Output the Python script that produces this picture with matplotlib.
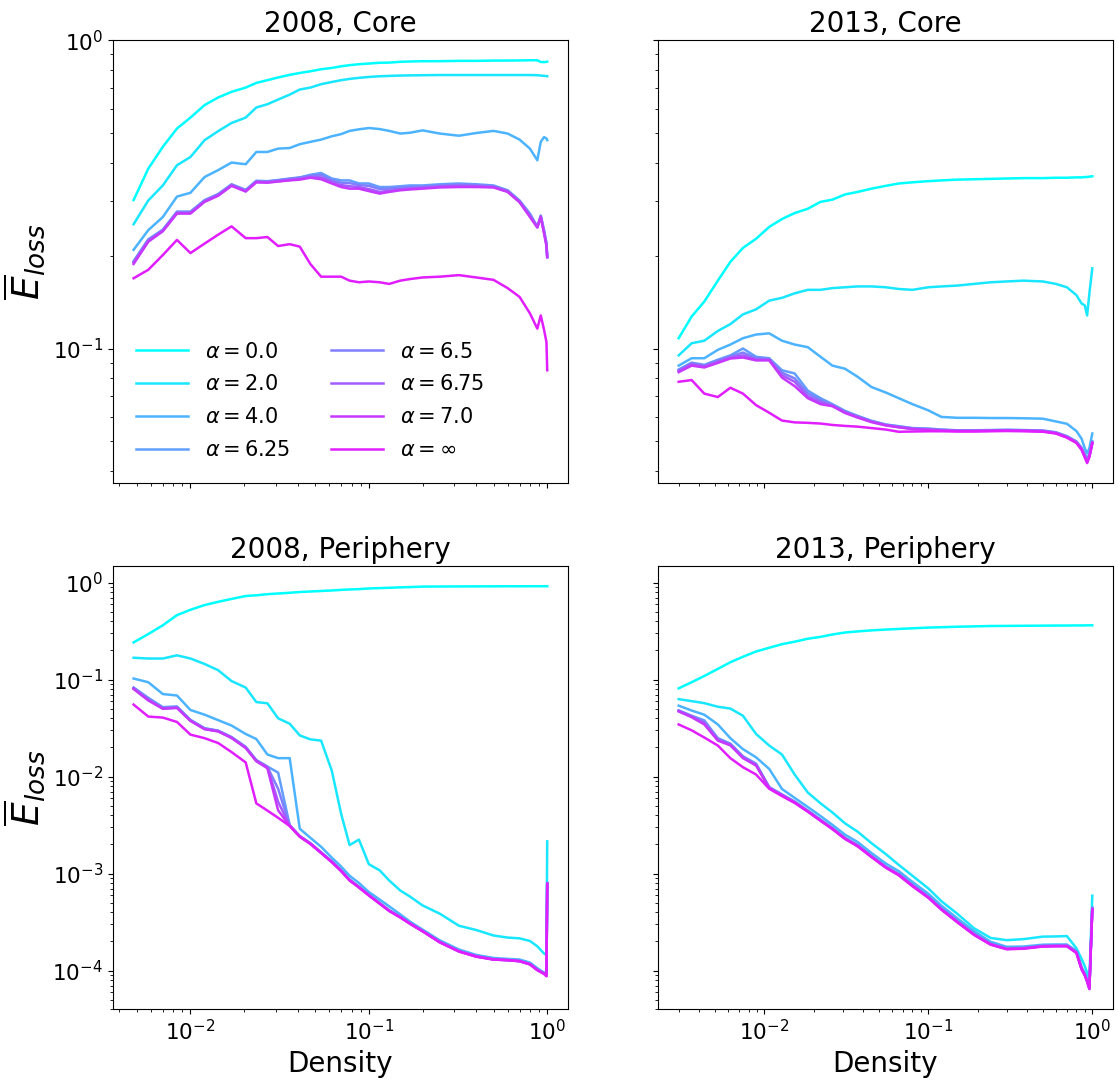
import matplotlib
matplotlib.use('Agg')
import matplotlib.pyplot as plt

# Legend labels and colours (cool colormap positions)
labels = [r'$\alpha = 0.0$', r'$\alpha = 2.0$', r'$\alpha = 4.0$', r'$\alpha = 6.25$',
          r'$\alpha = 6.5$', r'$\alpha = 6.75$', r'$\alpha = 7.0$', r'$\alpha = \infty$']
cmapPos = [0.0, 0.1, 0.3, 0.38, 0.5, 0.64, 0.78, 0.88]

# Density grids
x2008 = [0.0048, 0.0058, 0.007, 0.0084, 0.01, 0.012, 0.0143, 0.017, 0.0204, 0.0234,
         0.027, 0.031, 0.036, 0.041, 0.047, 0.054, 0.062, 0.07, 0.078, 0.088,
         0.1, 0.115, 0.13, 0.15, 0.17, 0.2, 0.25, 0.32, 0.4, 0.5,
         0.6, 0.7, 0.8, 0.88, 0.92, 0.96, 0.99, 1.0]
x2013 = [0.003, 0.0036, 0.0043, 0.0052, 0.0062, 0.0074, 0.0089, 0.0107, 0.0128, 0.0153,
         0.0184, 0.022, 0.026, 0.031, 0.037, 0.045, 0.055, 0.066, 0.08, 0.1,
         0.12, 0.15, 0.19, 0.24, 0.3, 0.38, 0.5, 0.6, 0.7, 0.8,
         0.86, 0.9, 0.93, 0.96, 1.0]

# 2008, Core
core08_a0 = [0.303, 0.383, 0.451, 0.517, 0.561, 0.616, 0.652, 0.680, 0.702, 0.727,
             0.742, 0.757, 0.772, 0.783, 0.793, 0.805, 0.813, 0.823, 0.830, 0.836,
             0.840, 0.845, 0.846, 0.851, 0.853, 0.855, 0.855, 0.857, 0.857, 0.859,
             0.859, 0.860, 0.861, 0.861, 0.850, 0.849, 0.851, 0.852]
core08_a2 = [0.253, 0.302, 0.338, 0.393, 0.418, 0.474, 0.507, 0.539, 0.561, 0.605,
             0.620, 0.642, 0.666, 0.692, 0.702, 0.720, 0.732, 0.742, 0.749, 0.755,
             0.760, 0.764, 0.766, 0.768, 0.769, 0.770, 0.771, 0.771, 0.771, 0.771,
             0.771, 0.771, 0.771, 0.770, 0.768, 0.766, 0.765, 0.764]
core08_a4 = [0.209, 0.242, 0.267, 0.311, 0.320, 0.360, 0.379, 0.401, 0.396, 0.434,
             0.434, 0.445, 0.447, 0.460, 0.468, 0.476, 0.488, 0.496, 0.508, 0.514,
             0.519, 0.515, 0.508, 0.498, 0.501, 0.510, 0.498, 0.490, 0.500, 0.508,
             0.498, 0.476, 0.445, 0.408, 0.468, 0.485, 0.480, 0.474]
core08_a625 = [0.192, 0.226, 0.243, 0.278, 0.278, 0.303, 0.317, 0.341, 0.327, 0.350,
               0.349, 0.352, 0.356, 0.359, 0.366, 0.371, 0.356, 0.351, 0.351, 0.343,
               0.343, 0.334, 0.334, 0.336, 0.338, 0.338, 0.341, 0.343, 0.341, 0.338,
               0.326, 0.302, 0.274, 0.248, 0.270, 0.242, 0.220, 0.198]
core08_a65 = [0.191, 0.225, 0.242, 0.277, 0.277, 0.302, 0.316, 0.340, 0.326, 0.349,
              0.348, 0.351, 0.355, 0.358, 0.363, 0.366, 0.351, 0.345, 0.344, 0.339,
              0.337, 0.329, 0.330, 0.332, 0.334, 0.335, 0.338, 0.340, 0.339, 0.336,
              0.325, 0.301, 0.272, 0.248, 0.269, 0.240, 0.219, 0.198]
core08_a675 = [0.190, 0.223, 0.241, 0.275, 0.275, 0.300, 0.314, 0.338, 0.324, 0.347,
               0.346, 0.349, 0.352, 0.355, 0.360, 0.359, 0.347, 0.339, 0.336, 0.334,
               0.329, 0.322, 0.325, 0.328, 0.330, 0.332, 0.335, 0.337, 0.336, 0.334,
               0.323, 0.299, 0.269, 0.247, 0.268, 0.238, 0.217, 0.198]
core08_a7 = [0.188, 0.222, 0.240, 0.274, 0.274, 0.299, 0.313, 0.337, 0.323, 0.346,
             0.345, 0.348, 0.351, 0.353, 0.358, 0.354, 0.343, 0.334, 0.330, 0.330,
             0.324, 0.318, 0.322, 0.326, 0.328, 0.330, 0.333, 0.334, 0.334, 0.333,
             0.322, 0.298, 0.267, 0.247, 0.267, 0.236, 0.215, 0.198]
core08_ainf = [0.169, 0.180, 0.201, 0.225, 0.204, 0.219, 0.234, 0.249, 0.228, 0.228,
               0.230, 0.215, 0.218, 0.214, 0.188, 0.171, 0.171, 0.171, 0.166, 0.164,
               0.165, 0.164, 0.162, 0.166, 0.168, 0.170, 0.171, 0.173, 0.170, 0.167,
               0.157, 0.147, 0.130, 0.116, 0.128, 0.115, 0.105, 0.085]

# 2013, Core
core13_a0 = [0.108, 0.127, 0.142, 0.166, 0.191, 0.212, 0.227, 0.248, 0.263, 0.275,
             0.284, 0.299, 0.304, 0.316, 0.322, 0.330, 0.337, 0.343, 0.346, 0.349,
             0.351, 0.353, 0.354, 0.355, 0.356, 0.357, 0.357, 0.358, 0.358, 0.359,
             0.359, 0.360, 0.360, 0.361, 0.362]
core13_a2 = [0.095, 0.104, 0.106, 0.114, 0.120, 0.129, 0.134, 0.143, 0.146, 0.151,
             0.155, 0.155, 0.157, 0.158, 0.159, 0.159, 0.158, 0.156, 0.155, 0.158,
             0.159, 0.160, 0.162, 0.164, 0.165, 0.166, 0.165, 0.162, 0.158, 0.149,
             0.140, 0.138, 0.128, 0.151, 0.182]
core13_a4 = [0.088, 0.093, 0.093, 0.099, 0.103, 0.108, 0.111, 0.112, 0.106, 0.103,
             0.101, 0.094, 0.088, 0.086, 0.081, 0.075, 0.072, 0.069, 0.066, 0.063,
             0.060, 0.0596, 0.0596, 0.0595, 0.0595, 0.0594, 0.0592, 0.058, 0.057, 0.054,
             0.051, 0.0475, 0.0457, 0.0475, 0.053]
core13_a625 = [0.0855, 0.090, 0.0885, 0.092, 0.095, 0.100, 0.094, 0.093, 0.085, 0.083,
               0.073, 0.069, 0.066, 0.0628, 0.0605, 0.0583, 0.0567, 0.056, 0.0552, 0.055,
               0.0546, 0.0543, 0.0543, 0.0544, 0.0545, 0.0544, 0.0542, 0.0535, 0.052, 0.050,
               0.0477, 0.0455, 0.0438, 0.0455, 0.050]
core13_a65 = [0.085, 0.0895, 0.088, 0.0912, 0.0942, 0.097, 0.093, 0.0925, 0.0835, 0.080,
              0.0715, 0.068, 0.0655, 0.0624, 0.0602, 0.0581, 0.0566, 0.0558, 0.0551, 0.0548,
              0.0545, 0.0542, 0.0542, 0.0543, 0.0544, 0.0543, 0.0541, 0.0534, 0.0518, 0.0498,
              0.0475, 0.0452, 0.0435, 0.0452, 0.0497]
core13_a675 = [0.0845, 0.089, 0.0875, 0.0905, 0.0935, 0.095, 0.092, 0.092, 0.082, 0.078,
               0.070, 0.067, 0.0652, 0.0621, 0.06, 0.0579, 0.0564, 0.0556, 0.0549, 0.0546,
               0.0543, 0.0541, 0.0541, 0.0542, 0.0543, 0.0542, 0.054, 0.0532, 0.0516, 0.0496,
               0.0472, 0.0448, 0.0431, 0.0448, 0.0494]
core13_a7 = [0.0838, 0.088, 0.0868, 0.0898, 0.0928, 0.0935, 0.0915, 0.0915, 0.0805, 0.0755,
             0.069, 0.066, 0.065, 0.0618, 0.0597, 0.0577, 0.0563, 0.0555, 0.0548, 0.0545,
             0.0542, 0.054, 0.054, 0.0541, 0.0542, 0.0541, 0.0539, 0.0531, 0.0515, 0.0495,
             0.047, 0.0445, 0.0428, 0.0445, 0.049]
core13_ainf = [0.078, 0.079, 0.0714, 0.0696, 0.0746, 0.0714, 0.0655, 0.0619, 0.0584, 0.0576,
               0.0574, 0.0571, 0.0565, 0.0561, 0.0558, 0.0552, 0.0546, 0.0537, 0.0538, 0.0539,
               0.0539, 0.0538, 0.0538, 0.0539, 0.054, 0.0539, 0.0537, 0.053, 0.0514, 0.0494,
               0.047, 0.0443, 0.0425, 0.0445, 0.0495]

# 2008, Periphery
peri08_a0 = [0.242, 0.295, 0.363, 0.462, 0.525, 0.587, 0.634, 0.679, 0.728, 0.740,
             0.760, 0.773, 0.786, 0.800, 0.810, 0.820, 0.830, 0.842, 0.850, 0.857,
             0.871, 0.878, 0.885, 0.894, 0.900, 0.910, 0.912, 0.914, 0.915, 0.916,
             0.917, 0.917, 0.918, 0.918, 0.918, 0.918, 0.918, 0.918]
peri08_a2 = [0.168, 0.165, 0.165, 0.178, 0.165, 0.145, 0.125, 0.0966, 0.0828, 0.0587,
             0.057, 0.0399, 0.0351, 0.0266, 0.0242, 0.0235, 0.0115, 0.0041, 0.00197, 0.00224,
             0.00125, 0.00108, 0.00085, 0.00067, 0.00058, 0.00047, 0.000386, 0.00029, 0.000262, 0.00023,
             0.000219, 0.000215, 0.000202, 0.000178, 0.000163, 0.00015, 0.000145, 0.00215]
peri08_a4 = [0.1026, 0.094, 0.071, 0.0686, 0.0486, 0.0435, 0.0382, 0.0336, 0.0275, 0.0244,
             0.0169, 0.0155, 0.0155, 0.0029, 0.00234, 0.00189, 0.00146, 0.00118, 0.00095, 0.0008,
             0.000646, 0.00054, 0.00046, 0.00038, 0.00032, 0.000265, 0.000205, 0.000165, 0.000145, 0.000135,
             0.000132, 0.00013, 0.000121, 0.000106, 0.0001, 0.0000957, 0.0000918, 0.0008]
peri08_a625 = [0.083, 0.065, 0.052, 0.053, 0.0385, 0.0316, 0.0298, 0.0256, 0.0203, 0.0148,
               0.0127, 0.011, 0.00316, 0.00244, 0.00206, 0.00166, 0.00134, 0.00108, 0.00087, 0.000734,
               0.000608, 0.000499, 0.00042, 0.00036, 0.00031, 0.000259, 0.000199, 0.00016, 0.000142, 0.000132,
               0.00013, 0.000127, 0.000118, 0.000103, 0.0000985, 0.0000945, 0.0000894, 0.0008]
peri08_a65 = [0.082, 0.063, 0.051, 0.052, 0.038, 0.0313, 0.0296, 0.0254, 0.020, 0.0147,
              0.0126, 0.0075, 0.00314, 0.00243, 0.00205, 0.00165, 0.00133, 0.00107, 0.00086, 0.000728,
              0.000603, 0.000495, 0.000417, 0.000357, 0.000308, 0.000257, 0.000198, 0.000159, 0.000141, 0.000131,
              0.000129, 0.000126, 0.000117, 0.000102, 0.0000978, 0.0000938, 0.0000888, 0.00079]
peri08_a675 = [0.081, 0.062, 0.0505, 0.0515, 0.0378, 0.031, 0.0294, 0.0252, 0.0199, 0.0146,
               0.0125, 0.0055, 0.00312, 0.00242, 0.00204, 0.00164, 0.00132, 0.00107, 0.00086, 0.000724,
               0.0006, 0.000492, 0.000415, 0.000355, 0.000306, 0.000256, 0.000197, 0.000158, 0.00014, 0.00013,
               0.000128, 0.000125, 0.000116, 0.000102, 0.0000972, 0.0000932, 0.0000882, 0.00079]
peri08_a7 = [0.080, 0.061, 0.050, 0.051, 0.0375, 0.0308, 0.0292, 0.025, 0.0197, 0.0144,
             0.0122, 0.0045, 0.0031, 0.00241, 0.00203, 0.00164, 0.00132, 0.00106, 0.00085, 0.00072,
             0.000597, 0.00049, 0.000413, 0.000354, 0.000305, 0.000255, 0.000196, 0.000158, 0.00014, 0.00013,
             0.000128, 0.000125, 0.000116, 0.000101, 0.0000968, 0.0000928, 0.0000878, 0.00078]
peri08_ainf = [0.0553, 0.0416, 0.0406, 0.0366, 0.0271, 0.0249, 0.0222, 0.0179, 0.014, 0.0053,
               0.00446, 0.00376, 0.0031, 0.0024, 0.00202, 0.00163, 0.00131, 0.00106, 0.00085, 0.00072,
               0.000595, 0.00049, 0.000412, 0.000353, 0.000304, 0.000254, 0.000195, 0.000157, 0.000139, 0.00013,
               0.000128, 0.000125, 0.000116, 0.000101, 0.0000965, 0.0000925, 0.0000875, 0.00078]

# 2013, Periphery
peri13_a0 = [0.0813, 0.094, 0.109, 0.129, 0.151, 0.172, 0.195, 0.213, 0.232, 0.246,
             0.264, 0.276, 0.292, 0.306, 0.314, 0.322, 0.328, 0.333, 0.338, 0.344,
             0.347, 0.351, 0.354, 0.357, 0.358, 0.359, 0.360, 0.361, 0.361, 0.362,
             0.362, 0.362, 0.363, 0.363, 0.363]
peri13_a2 = [0.0629, 0.060, 0.0572, 0.0525, 0.0503, 0.0424, 0.0275, 0.0209, 0.0169, 0.0105,
             0.00685, 0.0053, 0.00427, 0.0033, 0.00271, 0.00206, 0.00159, 0.00123, 0.00095, 0.000703,
             0.00052, 0.000386, 0.000273, 0.000217, 0.000206, 0.000211, 0.000224, 0.000225, 0.000227, 0.00017,
             0.000132, 0.000111, 0.000095, 0.000082, 0.000592]
peri13_a4 = [0.0539, 0.048, 0.0435, 0.0345, 0.0249, 0.0192, 0.0158, 0.012, 0.00746, 0.00603,
             0.00486, 0.00392, 0.00318, 0.00252, 0.00212, 0.00163, 0.00127, 0.00106, 0.00082, 0.00062,
             0.000468, 0.000346, 0.000255, 0.000198, 0.000176, 0.000177, 0.000185, 0.000186, 0.000186, 0.00016,
             0.000109, 0.000094, 0.000081, 0.000068, 0.00045]
peri13_a625 = [0.0482, 0.0424, 0.038, 0.0249, 0.0219, 0.0162, 0.0136, 0.0078, 0.00656, 0.00553,
               0.00446, 0.0036, 0.00295, 0.00234, 0.00197, 0.00152, 0.00118, 0.00099, 0.000766, 0.00058,
               0.000438, 0.000324, 0.00024, 0.00019, 0.00017, 0.000172, 0.000181, 0.000182, 0.000182, 0.000156,
               0.000106, 0.0000918, 0.0000787, 0.0000662, 0.000438]
peri13_a65 = [0.0478, 0.0420, 0.0368, 0.0245, 0.0216, 0.016, 0.0134, 0.0077, 0.0065, 0.00548,
              0.00443, 0.00357, 0.00293, 0.00232, 0.00196, 0.00151, 0.00117, 0.00098, 0.00076, 0.000576,
              0.000435, 0.000322, 0.000238, 0.000188, 0.000169, 0.000171, 0.00018, 0.000181, 0.000181, 0.000155,
              0.000105, 0.0000912, 0.0000782, 0.0000658, 0.000436]
peri13_a675 = [0.0474, 0.0415, 0.0356, 0.024, 0.0213, 0.0158, 0.0132, 0.0077, 0.0064, 0.00544,
               0.0044, 0.00355, 0.00291, 0.0023, 0.00194, 0.0015, 0.00117, 0.00098, 0.000755, 0.000572,
               0.000432, 0.00032, 0.000236, 0.000187, 0.000168, 0.00017, 0.000179, 0.00018, 0.00018, 0.000154,
               0.000105, 0.0000906, 0.0000777, 0.0000654, 0.000433]
peri13_a7 = [0.047, 0.041, 0.0345, 0.0235, 0.021, 0.0155, 0.013, 0.0076, 0.0064, 0.0054,
             0.00437, 0.00353, 0.00289, 0.00229, 0.00193, 0.00149, 0.00116, 0.00097, 0.00075, 0.000568,
             0.000429, 0.000318, 0.000235, 0.000186, 0.000167, 0.000169, 0.000178, 0.000179, 0.000179, 0.000153,
             0.000104, 0.00009, 0.0000772, 0.000065, 0.00043]
peri13_ainf = [0.0345, 0.030, 0.0253, 0.0209, 0.0155, 0.0125, 0.0105, 0.0075, 0.0063, 0.00535,
               0.00435, 0.0035, 0.00287, 0.00228, 0.00191, 0.00148, 0.00115, 0.00096, 0.00074, 0.000563,
               0.000425, 0.000315, 0.000233, 0.000185, 0.000166, 0.000168, 0.000177, 0.000178, 0.000178, 0.000152,
               0.000103, 0.0000892, 0.0000766, 0.0000645, 0.000425]

core08 = [core08_a0, core08_a2, core08_a4, core08_a625, core08_a65, core08_a675, core08_a7, core08_ainf]
core13 = [core13_a0, core13_a2, core13_a4, core13_a625, core13_a65, core13_a675, core13_a7, core13_ainf]
peri08 = [peri08_a0, peri08_a2, peri08_a4, peri08_a625, peri08_a65, peri08_a675, peri08_a7, peri08_ainf]
peri13 = [peri13_a0, peri13_a2, peri13_a4, peri13_a625, peri13_a65, peri13_a675, peri13_a7, peri13_ainf]

panels = [(0, 0, "2008, Core", x2008, core08),
          (0, 1, "2013, Core", x2013, core13),
          (1, 0, "2008, Periphery", x2008, peri08),
          (1, 1, "2013, Periphery", x2013, peri13)]

fig, axes = plt.subplots(2, 2, figsize=(11.18, 10.84), dpi=100, sharex='col', sharey='row')
fig.subplots_adjust(left=0.101, right=0.9955, top=0.963, bottom=0.069, wspace=0.198, hspace=0.187)

for row, col, title, xs, series in panels:
    ax = axes[row, col]
    for ys, lab, pos in zip(series, labels, cmapPos):
        ax.plot(xs, ys, color=plt.cm.cool(pos), lw=1.8, label=lab)
    ax.set_xscale('log')
    ax.set_yscale('log')
    ax.set_title(title, fontsize=20)
    ax.tick_params(labelsize=15.5)
    if row == 1:
        ax.set_xlabel('Density', fontsize=20)
    if col == 0:
        ax.set_ylabel(r'$\overline{E}_{loss}$', fontsize=27)

axes[0, 0].legend(loc='lower left', ncol=2, frameon=False, fontsize=15, handlelength=2.5,
                  labelspacing=0.62, borderaxespad=0.7)

plt.savefig('out.png', dpi=100)
